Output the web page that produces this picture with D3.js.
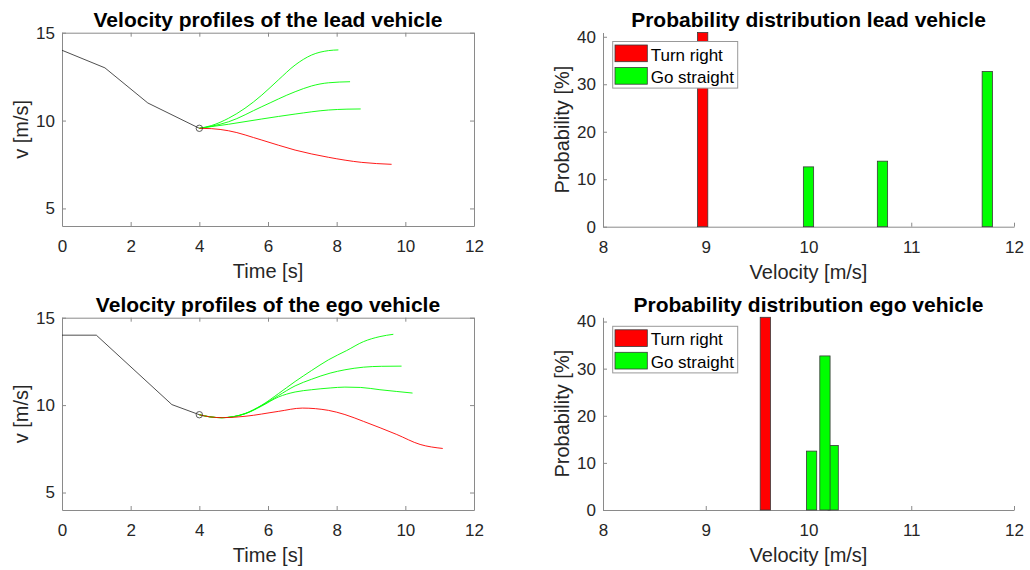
<!DOCTYPE html>
<html><head><meta charset="utf-8">
<script src="https://cdn.jsdelivr.net/npm/d3@7"></script>
<style>
body{margin:0;background:#fff}
svg{display:block}
text{font-family:"Liberation Sans",Arial,Helvetica,sans-serif}
</style>
</head><body>
<svg id="c" width="1030" height="570"></svg>
<script>
// ---------------- DATA ----------------
// Lead vehicle velocity profiles (time [s], velocity [m/s])
const leadHistT = [0, 1.25, 2.5, 4];
const leadHistV = [14, 13, 11, 9.56];
const leadRedT  = [4, 4.36, 4.85, 5.82, 6.79, 7.76, 8.73, 9.6];
const leadRedV  = [9.56, 9.54, 9.42, 8.89, 8.32, 7.91, 7.62, 7.51];
const leadG1T   = [4, 4.36, 4.85, 5.33, 5.82, 6.3, 6.79, 7.27, 7.76, 8.05];
const leadG1V   = [9.56, 9.72, 10.13, 10.7, 11.45, 12.31, 13.16, 13.73, 13.98, 14.02];
const leadG2T   = [4, 4.36, 4.85, 5.82, 6.79, 7.27, 7.76, 8.39];
const leadG2V   = [9.56, 9.68, 9.93, 10.79, 11.64, 11.97, 12.15, 12.21];
const leadG3T   = [4, 4.85, 5.82, 6.79, 7.76, 8.3, 8.7];
const leadG3V   = [9.56, 9.79, 10.09, 10.37, 10.6, 10.65, 10.66];

// Ego vehicle velocity profiles
const egoHistT = [0, 1.0, 3.2, 4];
const egoHistV = [14, 14, 10.03, 9.45];
const egoRedT  = [4, 4.3, 4.68, 5.33, 6.3, 7.0, 7.76, 8.24, 8.78, 9.75, 10.43, 11.09];
const egoRedV  = [9.45, 9.33, 9.28, 9.36, 9.64, 9.83, 9.7, 9.46, 9.07, 8.32, 7.75, 7.52];
const egoG1T   = [4, 4.3, 4.65, 5.33, 5.82, 6.3, 6.79, 7.27, 7.76, 8.29, 8.78, 9.26, 9.65];
const egoG1V   = [9.45, 9.33, 9.28, 9.52, 10.0, 10.65, 11.35, 11.98, 12.59, 13.12, 13.63, 13.92, 14.05];
const egoG2T   = [4, 4.3, 4.65, 5.33, 5.82, 6.3, 6.79, 7.27, 7.81, 8.24, 8.78, 9.3, 9.89];
const egoG2V   = [9.45, 9.33, 9.28, 9.51, 9.98, 10.54, 11.1, 11.48, 11.83, 12.02, 12.17, 12.22, 12.23];
const egoG3T   = [4, 4.3, 4.65, 5.33, 5.82, 6.3, 6.79, 7.27, 7.81, 8.24, 8.7, 9.26, 9.75, 10.21];
const egoG3V   = [9.45, 9.33, 9.28, 9.5, 9.95, 10.46, 10.75, 10.88, 10.98, 11.03, 11.01, 10.88, 10.78, 10.69];

// Probability distributions (velocity [m/s], probability [%])
const leadTurnV = [8.97];
const leadTurnP = [40.9];
const leadStraightV = [10.0, 10.72, 11.74];
const leadStraightP = [12.6, 13.8, 32.7];
const egoTurnV = [9.58];
const egoTurnP = [40.9];
const egoStraightV = [10.03, 10.24, 10.16];
const egoStraightP = [12.5, 13.7, 32.7];

// Tick values / labels
const lineXTicks = [0, 2, 4, 6, 8, 10, 12];
const lineYTicks = [5, 10, 15];
const barXTicks = [8, 9, 10, 11, 12];
const barYTicks = [0, 10, 20, 30, 40];
const legendLabels = ["Turn right", "Go straight"];

const titles = {
  tl: "Velocity profiles of the lead vehicle",
  bl: "Velocity profiles of the ego vehicle",
  tr: "Probability distribution lead vehicle",
  br: "Probability distribution ego vehicle"
};

// ---------------- STYLE ----------------
const AXIS = "#8a8a8a", TXT = "#262626";
const RED = "#ff0000", GREEN = "#00ff00";
const BAR_W = 0.1;

const svg = d3.select("#c");

function styleAxis(g, showLabels) {
  g.select(".domain").attr("stroke", AXIS).attr("stroke-width", 1);
  g.selectAll(".tick line").attr("stroke", AXIS).attr("stroke-width", 1);
  g.selectAll(".tick text").attr("fill", TXT).style("font-size", "17px")
    .attr("font-family", null);
  if (!showLabels) g.selectAll(".tick text").remove();
}

function panel(box, xDom, yDom, xTicks, yTicks, title, xLabel, yLabel, mirror) {
  const x = d3.scaleLinear().domain(xDom).range([box.l, box.r]);
  const y = d3.scaleLinear().domain(yDom).range([box.b, box.t]);
  const g = svg.append("g");

  const gx = g.append("g").attr("transform", `translate(0,${box.b})`)
    .call(d3.axisBottom(x).tickValues(xTicks).tickSize(-4).tickSizeOuter(0).tickPadding(14).tickFormat(d3.format("d")));
  styleAxis(gx, true);
  const gy = g.append("g").attr("transform", `translate(${box.l},0)`)
    .call(d3.axisLeft(y).tickValues(yTicks).tickSize(-4).tickSizeOuter(0).tickPadding(7).tickFormat(d3.format("d")));
  styleAxis(gy, true);
  if (mirror) {
    const gt = g.append("g").attr("transform", `translate(0,${box.t})`)
      .call(d3.axisTop(x).tickValues(xTicks).tickSize(-4).tickSizeOuter(0));
    styleAxis(gt, false);
    const gr = g.append("g").attr("transform", `translate(${box.r},0)`)
      .call(d3.axisRight(y).tickValues(yTicks).tickSize(-4).tickSizeOuter(0));
    styleAxis(gr, false);
  }
  g.append("text").attr("x", (box.l + box.r) / 2).attr("y", box.t - 5.5)
    .attr("text-anchor", "middle").attr("font-weight", "bold")
    .style("font-size", "21px").attr("fill", "#000").text(title);
  g.append("text").attr("x", (box.l + box.r) / 2).attr("y", box.b + 52)
    .attr("text-anchor", "middle").style("font-size", "20px").attr("fill", TXT).text(xLabel);
  g.append("text").attr("transform", `translate(${box.l - 34.5},${(box.t + box.b) / 2}) rotate(-90)`)
    .attr("text-anchor", "middle").style("font-size", "20px").attr("fill", TXT).text(yLabel);
  return { x, y, g };
}

function linePanel(box, title, hist, red, greens) {
  const p = panel(box, [0, 12], [4, 15], lineXTicks, lineYTicks, title, "Time [s]", "v [m/s]", true);
  const line = d3.line().x(d => p.x(d[0])).y(d => p.y(d[1]));
  const smooth = d3.line().x(d => p.x(d[0])).y(d => p.y(d[1])).curve(d3.curveMonotoneX);
  p.g.append("path").attr("d", line(d3.zip(hist[0], hist[1])))
    .attr("fill", "none").attr("stroke", "#222").attr("stroke-width", 0.8);
  greens.forEach(gc => {
    p.g.append("path").attr("d", smooth(d3.zip(gc[0], gc[1])))
      .attr("fill", "none").attr("stroke", GREEN).attr("stroke-width", 0.9);
  });
  p.g.append("path").attr("d", smooth(d3.zip(red[0], red[1])))
    .attr("fill", "none").attr("stroke", RED).attr("stroke-width", 0.9);
  const last = hist[0].length - 1;
  p.g.append("circle").attr("cx", p.x(hist[0][last])).attr("cy", p.y(hist[1][last])).attr("r", 3.2)
    .attr("fill", "none").attr("stroke", "#333").attr("stroke-width", 0.8);
}

function barPanel(box, title, turnV, turnP, strV, strP) {
  const maxP = d3.max(turnP.concat(strP));
  const p = panel(box, [8, 12], [0, maxP], barXTicks, barYTicks, title, "Velocity [m/s]", "Probability [%]", false);
  const drawBars = (vs, ps, col) => {
    p.g.selectAll(null).data(d3.zip(vs, ps)).enter().append("rect")
      .attr("x", d => p.x(d[0] - BAR_W / 2))
      .attr("width", d => p.x(d[0] + BAR_W / 2) - p.x(d[0] - BAR_W / 2))
      .attr("y", d => p.y(d[1]))
      .attr("height", d => p.y(0) - p.y(d[1]))
      .attr("fill", col).attr("stroke", "#3a3a3a").attr("stroke-width", 0.8);
  };
  drawBars(turnV, turnP, RED);
  drawBars(strV, strP, GREEN);
  // redraw the x axis line over bars bottom
  // legend
  const lg = p.g.append("g").attr("transform", `translate(${box.l + 9.7},${box.t + 9})`);
  lg.append("rect").attr("x", 0).attr("y", 0).attr("width", 125).attr("height", 46.6)
    .attr("fill", "#fff").attr("stroke", "#999").attr("stroke-width", 1);
  [RED, GREEN].forEach((c, i) => {
    lg.append("rect").attr("x", 2.3).attr("y", 3.5 + i * 22.5).attr("width", 32.3).attr("height", 16.7)
      .attr("fill", c).attr("stroke", "#3a3a3a").attr("stroke-width", 0.8);
    lg.append("text").attr("x", 38).attr("y", 19.2 + i * 22.5).style("font-size", "17px")
      .attr("fill", "#000").text(legendLabels[i]);
  });
}

linePanel({ l: 62, r: 474, t: 32.7, b: 226 }, titles.tl,
  [leadHistT, leadHistV], [leadRedT, leadRedV],
  [[leadG1T, leadG1V], [leadG2T, leadG2V], [leadG3T, leadG3V]]);
linePanel({ l: 62, r: 474, t: 317.7, b: 510 }, titles.bl,
  [egoHistT, egoHistV], [egoRedT, egoRedV],
  [[egoG1T, egoG1V], [egoG2T, egoG2V], [egoG3T, egoG3V]]);
barPanel({ l: 603, r: 1014, t: 32.5, b: 226.7 }, titles.tr, leadTurnV, leadTurnP, leadStraightV, leadStraightP);
barPanel({ l: 603, r: 1014, t: 317.3, b: 510 }, titles.br, egoTurnV, egoTurnP, egoStraightV, egoStraightP);
</script>
</body></html>
